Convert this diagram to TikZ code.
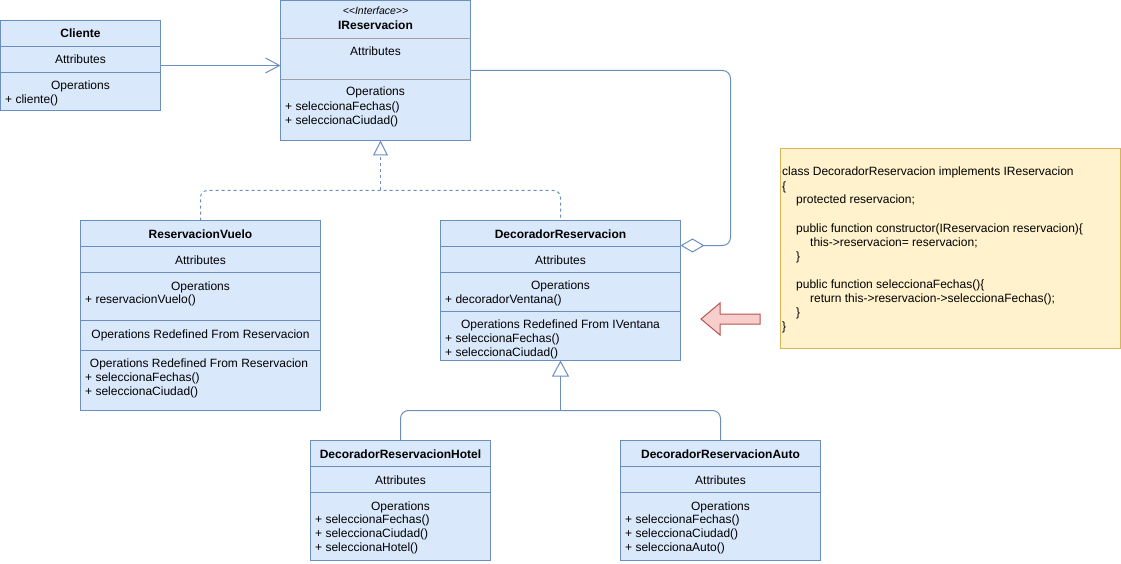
\documentclass[tikz,border=0pt]{standalone}
\usepackage{fontspec}
\setmainfont{Liberation Sans}
\usetikzlibrary{arrows.meta}
\definecolor{boxf}{HTML}{DAE8FC}
\definecolor{boxc}{HTML}{6C8EBF}
\definecolor{notef}{HTML}{FFF2CC}
\definecolor{notec}{HTML}{D6B656}
\definecolor{redf}{HTML}{F8CECC}
\definecolor{redc}{HTML}{B85450}
\definecolor{ifline}{HTML}{A0A0A0}
\begin{document}
\begin{tikzpicture}[x=1pt,y=-1pt,
  font=\fontsize{12}{14}\selectfont,
  cls/.style={draw=boxc, fill=boxf, line width=1pt, anchor=north west, inner sep=0pt, outer sep=0pt},
  sepline/.style={draw=boxc, line width=1pt},
  ifsep/.style={draw=ifline, line width=1pt},
  ttl/.style={anchor=base, inner sep=0pt, font=\fontsize{12}{14}\selectfont\bfseries},
  ctr/.style={anchor=base, inner sep=0pt},
  mem/.style={anchor=base west, inner sep=0pt},
  conn/.style={draw=boxc, line width=1pt},
  dashline/.style={dash pattern=on 3pt off 3pt},
  notebox/.style={draw=notec, fill=notef, line width=1pt, anchor=north west, inner sep=0pt, outer sep=0pt},
  codeline/.style={anchor=base west, inner sep=0pt},
  hollowtri/.style={-{Triangle[open, length=15pt, width=15pt]}}
]
\useasboundingbox (0,0) rectangle (1121,564);

% ---------------- Cliente
\node[cls, minimum width=160pt, minimum height=90pt] (cliente) at (0.5,20.5) {};
\draw[sepline] (0.5,46.5) -- (160.5,46.5);
\draw[sepline] (0.5,72.5) -- (160.5,72.5);
\node[ttl] (clT) at (80.5,37.5) {Cliente};
\node[ctr] (clA) at (80.5,64) {Attributes};
\node[ctr] (clO) at (80.5,90) {Operations};
\node[mem] (clM1) at (5,104) {+ cliente()};

% ---------------- IReservacion
\node[cls, minimum width=190pt, minimum height=140pt] (ireserv) at (280.5,0.5) {};
\draw[ifsep] (280.5,38.5) -- (470.5,38.5);
\draw[ifsep] (280.5,79.5) -- (470.5,79.5);
\node[ctr, font=\fontsize{10.5}{12}\selectfont\itshape] (irS) at (375.5,14.5) {<\kern0pt<\kern0pt Interface\kern0pt>\kern0pt>};
\node[ttl] (irT) at (375.5,29.5) {IReservacion};
\node[ctr] (irA) at (375.5,56) {Attributes};
\node[ctr] (irO) at (375.5,96) {Operations};
\node[mem] (irM1) at (285,110.5) {+ seleccionaFechas()};
\node[mem] (irM2) at (285,124.5) {+ seleccionaCiudad()};

% ---------------- ReservacionVuelo
\node[cls, minimum width=240pt, minimum height=190pt] (vuelo) at (80.5,220.5) {};
\draw[sepline] (80.5,246.5) -- (320.5,246.5);
\draw[sepline] (80.5,272.5) -- (320.5,272.5);
\draw[sepline] (80.5,320.5) -- (320.5,320.5);
\draw[sepline] (80.5,350.5) -- (320.5,350.5);
\node[ttl] (vuT) at (200.5,238) {ReservacionVuelo};
\node[ctr] (vuA) at (200.5,264) {Attributes};
\node[ctr] (vuO) at (200.5,290) {Operations};
\node[mem] (vuM1) at (85,303) {+ reservacionVuelo()};
\node[ctr] (vuR1) at (200.5,338) {Operations Redefined From Reservacion};
\node[ctr] (vuR2) at (199,367) {Operations Redefined From Reservacion};
\node[mem] (vuM2) at (85,381) {+ seleccionaFechas()};
\node[mem] (vuM3) at (85,395) {+ seleccionaCiudad()};

% ---------------- DecoradorReservacion
\node[cls, minimum width=240pt, minimum height=140pt] (decor) at (440.5,220.5) {};
\draw[sepline] (440.5,246.5) -- (680.5,246.5);
\draw[sepline] (440.5,272.5) -- (680.5,272.5);
\draw[sepline] (440.5,311.5) -- (680.5,311.5);
\node[ttl] (deT) at (560.5,238) {DecoradorReservacion};
\node[ctr] (deA) at (560.5,264) {Attributes};
\node[ctr] (deO) at (560.5,289) {Operations};
\node[mem] (deM1) at (445,303) {+ decoradorVentana()};
\node[ctr] (deR) at (560.5,328) {Operations Redefined From IVentana};
\node[mem] (deM2) at (445,342) {+ seleccionaFechas()};
\node[mem] (deM3) at (445,356) {+ seleccionaCiudad()};

% ---------------- DecoradorReservacionHotel
\node[cls, minimum width=180pt, minimum height=120pt] (hotel) at (310.5,440.5) {};
\draw[sepline] (310.5,466.5) -- (490.5,466.5);
\draw[sepline] (310.5,492.5) -- (490.5,492.5);
\node[ttl] (hoT) at (400.5,458) {DecoradorReservacionHotel};
\node[ctr] (hoA) at (400.5,484) {Attributes};
\node[ctr] (hoO) at (400.5,510) {Operations};
\node[mem] (hoM1) at (315,523) {+ seleccionaFechas()};
\node[mem] (hoM2) at (315,537) {+ seleccionaCiudad()};
\node[mem] (hoM3) at (315,551) {+ seleccionaHotel()};

% ---------------- DecoradorReservacionAuto
\node[cls, minimum width=200pt, minimum height=120pt] (auto) at (620.5,440.5) {};
\draw[sepline] (620.5,466.5) -- (820.5,466.5);
\draw[sepline] (620.5,492.5) -- (820.5,492.5);
\node[ttl] (auT) at (720.5,458) {DecoradorReservacionAuto};
\node[ctr] (auA) at (720.5,484) {Attributes};
\node[ctr] (auO) at (720.5,510) {Operations};
\node[mem] (auM1) at (625,523) {+ seleccionaFechas()};
\node[mem] (auM2) at (625,537) {+ seleccionaCiudad()};
\node[mem] (auM3) at (625,551) {+ seleccionaAuto()};

% ---------------- Note
\node[notebox, minimum width=340pt, minimum height=200pt] (note) at (780.5,148.5) {};
\node[codeline] (c1) at (782,176) {class DecoradorReservacion implements IReservacion};
\node[codeline] (c2) at (782,190) {\{};
\node[codeline] (c3) at (796,204) {protected reservacion;};
\node[codeline] (c4) at (796,232) {public function constructor(IReservacion reservacion)\{};
\node[codeline] (c5) at (810,246) {this->reservacion= reservacion;};
\node[codeline] (c6) at (796,260) {\}};
\node[codeline] (c7) at (796,288) {public function seleccionaFechas()\{};
\node[codeline] (c8) at (810,302) {return this->reservacion->seleccionaFechas();};
\node[codeline] (c9) at (796,316) {\}};
\node[codeline] (c10) at (782,330) {\}};

% ---------------- Red block arrow
\draw[fill=redf, draw=redc, line width=1pt, line join=miter]
  (701,319) -- (720,303) -- (720,314) -- (760,314) -- (760,324) -- (720,324) -- (720,335) -- cycle;

% ---------------- Connectors
% association Cliente -> IReservacion
\draw[conn, -{Straight Barb[length=14pt, width=15pt]}] (cliente.east) -- (cliente.east -| ireserv.west);

% realization (dashed) to IReservacion
\coordinate (jr) at (380.5,190.5);
\draw[conn, dashline, rounded corners=7pt] (vuelo.north) |- (jr) -| (decor.north);
\draw[conn, dashline, hollowtri] (jr) -- (jr |- ireserv.south);

% aggregation DecoradorReservacion <>-- IReservacion
\coordinate (ag) at (730.5,245.5);
\draw[conn, rounded corners=8pt, {Diamond[open, length=24pt, width=14pt]}-] (decor.east |- ag) -- (ag) |- (ireserv.east);

% generalization to DecoradorReservacion
\coordinate (ji) at (560.5,410.5);
\draw[conn, rounded corners=8pt] (hotel.north) |- (ji) -| (auto.north);
\draw[conn, -{Triangle[open, length=16pt, width=17pt]}] (ji) -- (decor.south);
\end{tikzpicture}
\end{document}
